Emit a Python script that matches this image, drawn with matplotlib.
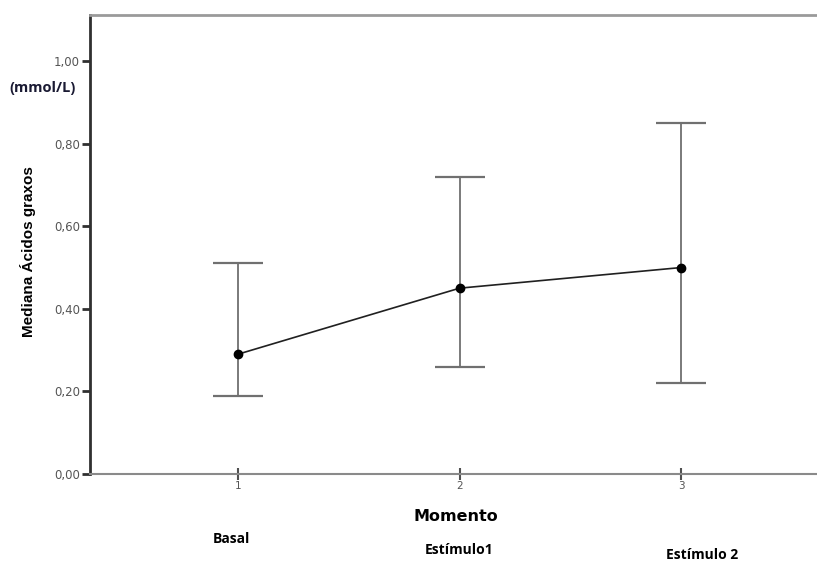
import numpy as np
import matplotlib.pyplot as plt

momento = [1, 2, 3]
mediana = [0.29, 0.45, 0.50]
lower = [0.19, 0.26, 0.22]
upper = [0.51, 0.72, 0.85]
yticks = [0.0, 0.2, 0.4, 0.6, 0.8, 1.0]
group_names = ['Basal', 'Estímulo1', 'Estímulo 2']

x = np.array(momento)
y = np.array(mediana)
err = [y - np.array(lower), np.array(upper) - y]

fig = plt.figure(figsize=(8.17, 5.61), dpi=100)
ax = fig.add_axes([0.110, 0.155, 0.895, 0.818])

ax.errorbar(x, y, yerr=err, fmt='none', ecolor='#707070', elinewidth=1.3,
            capsize=18, capthick=1.6)
ax.plot(x, y, color='#202020', linewidth=1.2, marker='o', markersize=6,
        markerfacecolor='black', markeredgecolor='black', zorder=3)

ax.set_xlim(0.333, 3.63)
ax.set_ylim(0, 1.111)
ax.set_xticks(momento)
ax.set_xticklabels([str(m) for m in momento])
ax.set_yticks(yticks)
ax.set_yticklabels([f'{t:.2f}'.replace('.', ',') for t in yticks])

ax.spines['right'].set_visible(False)
ax.spines['left'].set_color('#303030')
ax.spines['left'].set_linewidth(2)
ax.spines['bottom'].set_color('#8a8a8a')
ax.spines['bottom'].set_linewidth(1.5)
ax.spines['top'].set_color('#9a9a9a')
ax.spines['top'].set_linewidth(2)

ax.tick_params(axis='y', direction='out', length=6, width=2, color='#303030',
               labelsize=8.5, labelcolor='#555555', pad=1)
ax.tick_params(axis='x', direction='inout', length=8, width=1.5, color='#505050',
               labelsize=7.5, labelcolor='#555555', pad=1)

ax.set_ylabel('Mediana Ácidos graxos', fontsize=11, fontweight='bold',
              family=['Liberation Sans Narrow', 'Liberation Sans', 'DejaVu Sans'],
              fontstretch='condensed')
ax.yaxis.set_label_coords(-0.073, 0.485)
ax.set_xlabel('Momento', fontsize=11.5, fontweight='bold', labelpad=13)

fig.text(0.012, 0.843, '(mmol/L)', fontsize=10.5, fontweight='bold',
         color='#1a1a33', family='Open Sans', va='center')
label_pos = [(0.283, 0.039), (0.562, 0.019), (0.860, 0.011)]
for name, (px, py) in zip(group_names, label_pos):
    fig.text(px, py, name, fontsize=10, fontweight='bold', family='Open Sans',
             ha='center', va='center', color='black')

fig.savefig('out.png', dpi=100)
